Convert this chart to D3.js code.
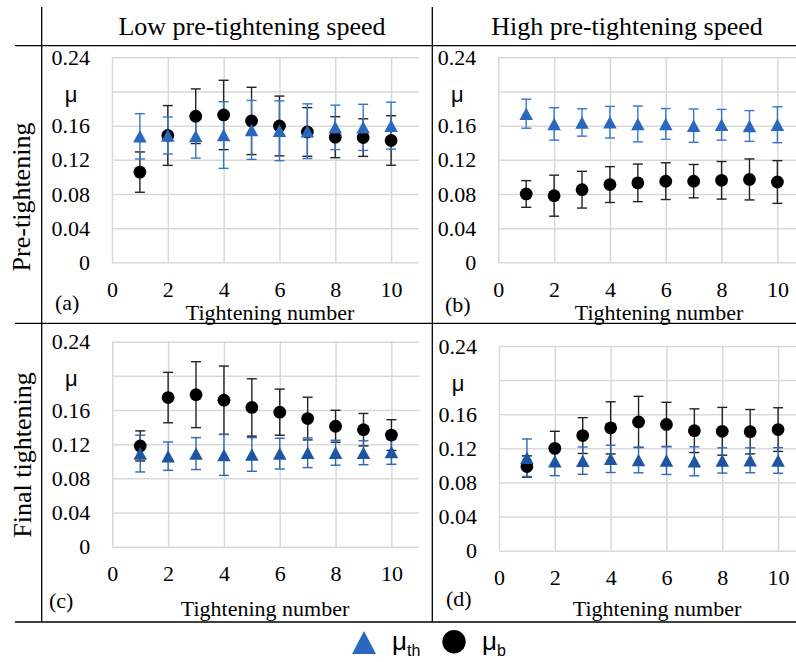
<!DOCTYPE html>
<html>
<head>
<meta charset="utf-8">
<script src="https://cdn.jsdelivr.net/npm/d3@7"></script>
<style>
  body { margin: 0; background: #fff; }
  svg { display: block; }
</style>
</head>
<body>
<div id="chart"></div>
<script>
// tightening number and axis ticks
const tighteningNo = [1, 2, 3, 4, 5, 6, 7, 8, 9, 10];
const xTicks = [0, 2, 4, 6, 8, 10];
const yTicks = [0, 0.04, 0.08, 0.12, 0.16, 0.20, 0.24];
const colTitles = ["Low pre-tightening speed", "High pre-tightening speed"];
const rowTitles = ["Pre-tightening", "Final tightening"];
const panelTags = ["(a)", "(b)", "(c)", "(d)"];
const xTitle = "Tightening number";

// (a) pre-tightening, low speed
const lowPreTh = [0.1475, 0.1485, 0.148, 0.149, 0.155, 0.154, 0.1535, 0.158, 0.158, 0.160];
const lowPreThErr = [0.0265, 0.0217, 0.026, 0.039, 0.0345, 0.035, 0.032, 0.026, 0.027, 0.0275];
const lowPreB = [0.1056, 0.1485, 0.171, 0.1725, 0.1655, 0.1596, 0.1526, 0.1465, 0.146, 0.1426];
const lowPreBErr = [0.0236, 0.035, 0.032, 0.0406, 0.0394, 0.035, 0.0285, 0.024, 0.022, 0.029];

// (b) pre-tightening, high speed
const highPreTh = [0.174, 0.162, 0.1637, 0.164, 0.162, 0.162, 0.160, 0.161, 0.1596, 0.161];
const highPreThErr = [0.017, 0.019, 0.016, 0.0185, 0.021, 0.018, 0.0195, 0.018, 0.018, 0.021];
const highPreB = [0.080, 0.078, 0.085, 0.091, 0.093, 0.095, 0.095, 0.096, 0.097, 0.094];
const highPreBErr = [0.0156, 0.024, 0.0215, 0.021, 0.022, 0.0215, 0.0195, 0.022, 0.024, 0.025];

// (c) final tightening, low speed
const lowFinTh = [0.109, 0.106, 0.109, 0.1075, 0.108, 0.109, 0.110, 0.110, 0.110, 0.111];
const lowFinThErr = [0.0215, 0.0166, 0.0187, 0.024, 0.0197, 0.018, 0.0174, 0.0146, 0.014, 0.0145];
const lowFinB = [0.118, 0.1746, 0.178, 0.1715, 0.163, 0.1575, 0.150, 0.141, 0.137, 0.1307];
const lowFinBErr = [0.0176, 0.0295, 0.0386, 0.040, 0.0336, 0.027, 0.025, 0.0187, 0.019, 0.018];

// (d) final tightening, high speed
const highFinTh = [0.109, 0.105, 0.1056, 0.1077, 0.1063, 0.1058, 0.1048, 0.1058, 0.106, 0.1058];
const highFinThErr = [0.022, 0.017, 0.016, 0.016, 0.015, 0.0164, 0.017, 0.0148, 0.0146, 0.015];
const highFinB = [0.0987, 0.120, 0.135, 0.144, 0.151, 0.148, 0.1407, 0.140, 0.1395, 0.142];
const highFinBErr = [0.0125, 0.020, 0.021, 0.0306, 0.030, 0.026, 0.0256, 0.028, 0.026, 0.0256];

const width = 796, height = 662;
const serif = "'Liberation Serif', 'Times New Roman', serif";
const sans = "'Liberation Sans', Arial, sans-serif";

const svg = d3.select("#chart")
  .append("svg")
  .attr("width", width)
  .attr("height", height);

// triangle path centred on its bounding box
function tri(w, h) {
  return `M0,${-h / 2}L${w / 2},${h / 2}L${-w / 2},${h / 2}Z`;
}

function panel(p) {
  const x = d3.scaleLinear().domain([0, 11]).range([p.left, p.left + 307]);
  const y = d3.scaleLinear().domain([0, 0.24]).range([p.bottom, p.top]);
  const g = svg.append("g");

  // horizontal grid
  g.append("g")
    .attr("transform", `translate(${p.left},0)`)
    .call(d3.axisLeft(y).tickValues(yTicks).tickSize(-(x(11) - x(0))).tickFormat(""))
    .call(s => s.select(".domain").remove())
    .selectAll("line").attr("stroke", "#d9d9d9").attr("stroke-width", 1.5);

  // vertical grid
  g.append("g")
    .attr("transform", `translate(0,${p.bottom})`)
    .call(d3.axisBottom(x).tickValues(xTicks).tickSize(-(p.bottom - p.top)).tickFormat(""))
    .call(s => s.select(".domain").remove())
    .selectAll("line").attr("stroke", "#d9d9d9").attr("stroke-width", 1.5);

  // y tick labels, 0.20 shows the symbol
  const yAx = g.append("g")
    .attr("transform", `translate(${p.left},0)`)
    .call(d3.axisLeft(y).tickValues(yTicks).tickSize(0).tickPadding(22)
      .tickFormat(d => d === 0 ? "0" : Math.abs(d - 0.2) < 1e-9 ? "μ" : d3.format(".2f")(d)));
  yAx.attr("font-family", null).attr("font-size", null)
    .style("font-family", serif).style("font-size", "22px");
  yAx.select(".domain").remove();
  yAx.selectAll("text").filter(d => Math.abs(d - 0.2) < 1e-9)
    .attr("text-anchor", "middle")
    .attr("x", -41)
    .attr("dy", "0.45em")
    .style("font-family", sans);

  // x tick labels
  const xAx = g.append("g")
    .attr("transform", `translate(0,${p.bottom})`)
    .call(d3.axisBottom(x).tickValues(xTicks).tickSize(0).tickPadding(19));
  xAx.attr("font-family", null).attr("font-size", null)
    .style("font-family", serif).style("font-size", "22px");
  xAx.select(".domain").remove();

  // x title and panel tag
  g.append("text")
    .attr("x", p.titleX).attr("y", p.titleY)
    .attr("text-anchor", "middle")
    .style("font-family", serif).style("font-size", "22px")
    .text(xTitle);
  g.append("text")
    .attr("x", p.tagX).attr("y", p.tagY)
    .style("font-family", serif).style("font-size", "22px")
    .text(p.tag);

  const series = [
    { v: p.b, e: p.bErr, bar: "#222" },
    { v: p.th, e: p.thErr, bar: p.blueBar }
  ];

  // error bars first, then circles, then triangles
  series.forEach(s => {
    const eb = g.append("g").attr("stroke", s.bar).attr("stroke-width", 1.4);
    tighteningNo.forEach((n, i) => {
      const hi = y(s.v[i] + s.e[i]), lo = y(s.v[i] - s.e[i]), cx = x(n);
      eb.append("line").attr("x1", cx).attr("x2", cx).attr("y1", hi).attr("y2", lo);
      eb.append("line").attr("x1", cx - 5).attr("x2", cx + 5).attr("y1", hi).attr("y2", hi);
      eb.append("line").attr("x1", cx - 5).attr("x2", cx + 5).attr("y1", lo).attr("y2", lo);
    });
  });

  g.append("g").selectAll("circle")
    .data(tighteningNo)
    .enter()
    .append("circle")
    .attr("cx", d => x(d))
    .attr("cy", (d, i) => y(p.b[i]))
    .attr("r", 6.4)
    .attr("fill", "#000");

  g.append("g").selectAll("path")
    .data(tighteningNo)
    .enter()
    .append("path")
    .attr("transform", (d, i) => `translate(${x(d)},${y(p.th[i])})`)
    .attr("d", tri(13.5, 12.5))
    .attr("fill", p.blue);
}

panel({ left: 112, top: 57.3, bottom: 262.3, th: lowPreTh, thErr: lowPreThErr, b: lowPreB, bErr: lowPreBErr,
  blue: "#2a68bd", blueBar: "#3a75c8", tag: panelTags[0], tagX: 55, tagY: 310, titleX: 270, titleY: 320 });
panel({ left: 498.3, top: 57.3, bottom: 262.3, th: highPreTh, thErr: highPreThErr, b: highPreB, bErr: highPreBErr,
  blue: "#2a68bd", blueBar: "#3a75c8", tag: panelTags[1], tagX: 445, tagY: 312, titleX: 659, titleY: 320 });
panel({ left: 112.3, top: 341.7, bottom: 546.7, th: lowFinTh, thErr: lowFinThErr, b: lowFinB, bErr: lowFinBErr,
  blue: "#1d55a2", blueBar: "#2f66b8", tag: panelTags[2], tagX: 49, tagY: 608, titleX: 265, titleY: 616 });
panel({ left: 499, top: 346, bottom: 550.7, th: highFinTh, thErr: highFinThErr, b: highFinB, bErr: highFinBErr,
  blue: "#1d55a2", blueBar: "#2f66b8", tag: panelTags[3], tagX: 446, tagY: 606, titleX: 657, titleY: 616 });

// column and row titles
svg.append("text").attr("x", 252).attr("y", 35).attr("text-anchor", "middle")
  .style("font-family", serif).style("font-size", "26px").text(colTitles[0]);
svg.append("text").attr("x", 627).attr("y", 35).attr("text-anchor", "middle")
  .style("font-family", serif).style("font-size", "26px").text(colTitles[1]);
svg.append("text").attr("transform", "translate(30,197) rotate(-90)").attr("text-anchor", "middle")
  .style("font-family", serif).style("font-size", "26px").text(rowTitles[0]);
svg.append("text").attr("transform", "translate(31,455) rotate(-90)").attr("text-anchor", "middle")
  .style("font-family", serif).style("font-size", "26px").text(rowTitles[1]);

// table lines
const frame = svg.append("g").attr("stroke", "#000").attr("stroke-width", 1.3);
[45.7, 323.3, 622].forEach(yy => frame.append("line").attr("x1", 15).attr("x2", width).attr("y1", yy).attr("y2", yy));
[41.7, 432.3].forEach(xx => frame.append("line").attr("x1", xx).attr("x2", xx).attr("y1", 7).attr("y2", 622));

// legend
const leg = svg.append("g");
leg.append("path").attr("transform", "translate(364,642.5)").attr("d", tri(24, 23)).attr("fill", "#2a68bd");
const t1 = leg.append("text").attr("x", 392).attr("y", 650).style("font-family", sans).style("font-size", "26px");
t1.append("tspan").text("μ");
t1.append("tspan").style("font-size", "16px").attr("dy", 6).text("th");
leg.append("circle").attr("cx", 454).attr("cy", 641.7).attr("r", 11.7).attr("fill", "#000");
const t2 = leg.append("text").attr("x", 482).attr("y", 650).style("font-family", sans).style("font-size", "26px");
t2.append("tspan").text("μ");
t2.append("tspan").style("font-size", "16px").attr("dy", 6).text("b");
</script>
</body>
</html>
